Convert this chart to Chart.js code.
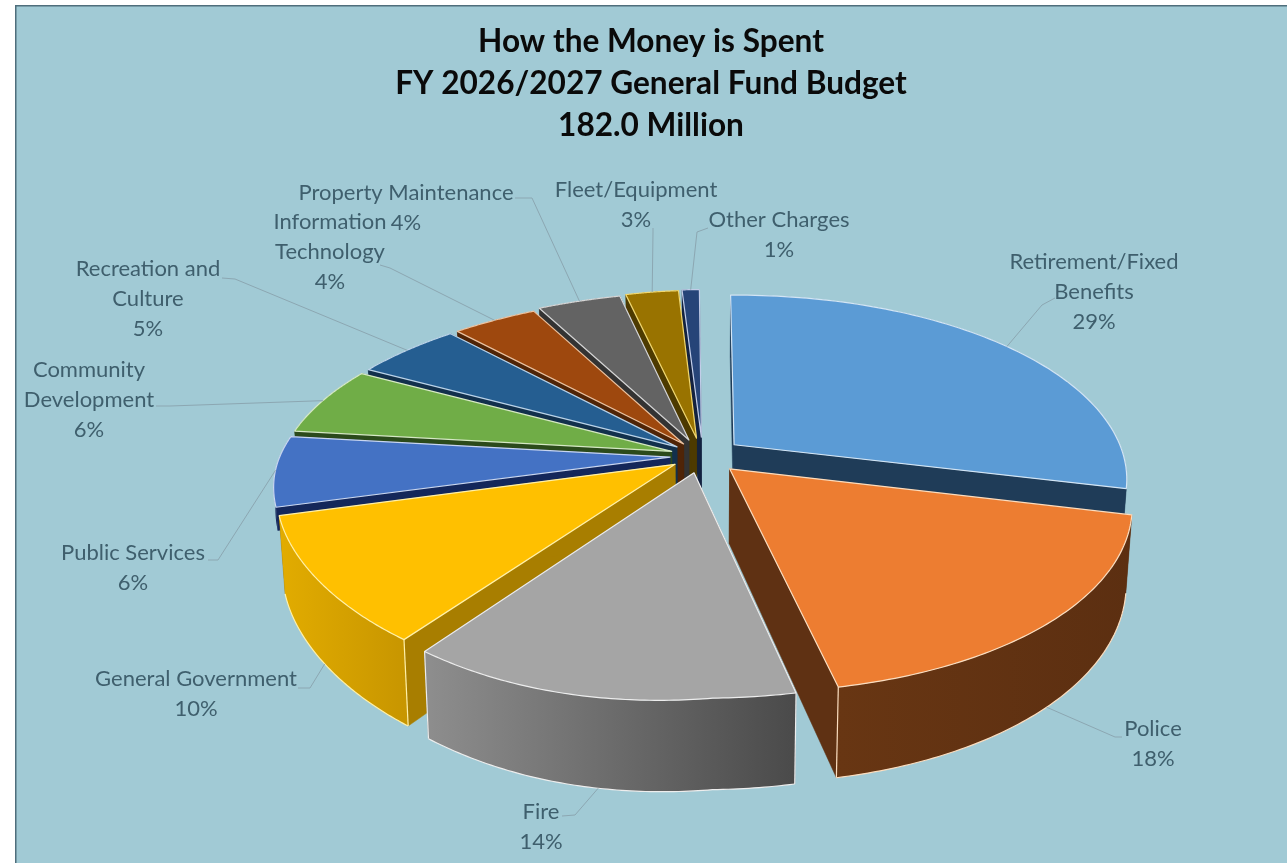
<!DOCTYPE html>
<html>
<head>
<meta charset="utf-8">
<style>
  html, body { margin: 0; padding: 0; background: #fff; }
  #wrap { position: absolute; left: 0; top: 0; width: 1287px; height: 863px; }
</style>
<script src="https://cdn.jsdelivr.net/npm/chart.js@4"></script>
</head>
<body>
<div id="wrap"><canvas id="budget" width="1287" height="863"></canvas></div>
<script>
// General Fund spending shares, in percent of the total budget.
const categories = ['Retirement/Fixed Benefits', 'Police', 'Fire', 'General Government', 'Public Services',
  'Community Development', 'Recreation and Culture', 'Information Technology', 'Property Maintenance',
  'Fleet/Equipment', 'Other Charges'];
const shares = [29, 18, 14, 10, 6, 6, 5, 4, 4, 3, 1];
const titleLines = ['How the Money is Spent', 'FY 2026/2027 General Fund Budget', '182.0 Million'];

// Slice styling.
const topColors = ['#5B9BD5', '#ED7D31', '#A5A5A5', '#FFC000', '#4472C4', '#70AD47', '#255E91', '#9E480E', '#636363', '#997300', '#264478'];
const edgeColors = ['#D3E5F5', '#FBDDBF', '#EDEDED', '#FFF0A8', '#C9D6F0', '#D5E8C5', '#BBD3E8', '#EBC3A2', '#D5D5D5', '#F0D770', '#C2CDE8'];
const faceColors = ['#1F3C58', '#5F3113', '#555555', '#A87E00', '#14275A', '#2B4A1B', '#12304C', '#4F2407', '#333333', '#4D3A00', '#132240'];
const wallNear = ['#1F3C58', '#683613', '#8E8E8E', '#E2AC00', '#14275A', '#2B4A1B', '#12304C', '#4F2407', '#333333', '#4D3A00', '#132240'];
const wallFar = ['#1F3C58', '#5C2F11', '#4A4A4A', '#C89600', '#14275A', '#2B4A1B', '#12304C', '#4F2407', '#333333', '#4D3A00', '#132240'];
const sliceOffsets = [40, 38, 37, 33, 33, 33, 33, 33, 38, 40, 42];
const sideDepth = [1, 1, 1, 1, 0.3, 1, 1, 1, 1, 1, 1];
const paintOrder = [10, 9, 8, 7, 6, 5, 0, 4, 3, 1, 2];

// Label text blocks and where each one sits; the leader starts at the slice rim.
const labelLines = [['Retirement/Fixed', 'Benefits'], ['Police'], ['Fire'], ['General Government'], ['Public Services'],
  ['Community', 'Development'], ['Recreation and', 'Culture'], ['Information', 'Technology'], ['Property Maintenance'],
  ['Fleet/Equipment'], ['Other Charges']];
const labelCentres = [[1094, 262], [1153, 729], [541, 812], [196, 679], [133, 553], [89, 370], [148, 269], [330, 222], [406, 193], [636, 190], [779, 220]];
const leaderElbows = [[[1042, 305], [1055, 298]], [[1115, 737], [1122, 737]], [[575, 815], [562, 816]], [[310, 688], [298, 688]], [[218, 560], [208, 560]],
  [[170, 406], [156, 406]], [[235, 279], [222, 278]], [[390, 268], [380, 265]], [[532, 198], [515, 198]], [[653, 232], [653, 228]], [[697, 232], [708, 228]]];
const leaderFromBase = [false, true, true, true, false, false, false, false, false, false, false];
const lineStep = 30;

// Projection of the tilted pie on to the page.
const view = { cx: 703, cy: 456, tilt: 0.46, perspective: 0.175, depth: 74, taper: 0.014, pinch: 0.07, nearShift: 7, farLeft: 15, farRight: 6, sag: 24 };

// Small lens corrections of the wide-angle view, by quadrant of the pie plane.
function lensX(X, Y, R) {
  const v = Y / R;
  if (Y < 0) {
    return X + view.nearShift * v * v + (X < 0 ? -view.pinch * X * v * v : 0);
  }
  if (X < 0) return X + view.farLeft * v * v * Math.min(1, -X / 120);
  return X + view.farRight * v * v * Math.min(1, X / 40);
}

function lensY(X, Y, R) {
  if (Y >= 0 || X >= 0) return 0;
  const v = Y / R;
  return view.sag * (-X / R) * v * v;
}

function project(el, angle, radial, drop) {
  const R = el.outerRadius;
  const th = angle + Math.PI / 2;
  const mid = (el.startAngle + el.endAngle) / 2 + Math.PI / 2;
  const d = el.options.offset;
  const X0 = R * radial * Math.sin(th) + d * Math.sin(mid);
  const Y = R * radial * Math.cos(th) + d * Math.cos(mid);
  const w = 1 + view.perspective * Y / R;
  const X = lensX(X0, Y, R);
  return [
    view.cx + (X / w) * (1 - drop * view.taper),
    view.cy - view.tilt * Y / w + lensY(X0, Y, R) + drop * view.depth / w
  ];
}

function rimPath(ctx, el, drop, reverse, moveFirst) {
  const steps = 80;
  for (let i = 0; i <= steps; i++) {
    const t = reverse ? 1 - i / steps : i / steps;
    const p = project(el, el.startAngle + (el.endAngle - el.startAngle) * t, 1, drop);
    if (i === 0 && moveFirst) ctx.moveTo(p[0], p[1]); else ctx.lineTo(p[0], p[1]);
  }
}

function cutFace(ctx, el, angle, fill, depth) {
  const a = project(el, angle, 0, 0), b = project(el, angle, 1, 0), c = project(el, angle, 1, depth), e = project(el, angle, 0, depth);
  ctx.beginPath();
  ctx.moveTo(a[0], a[1]); ctx.lineTo(b[0], b[1]); ctx.lineTo(c[0], c[1]); ctx.lineTo(e[0], e[1]);
  ctx.closePath();
  ctx.fillStyle = fill;
  ctx.fill();
  ctx.strokeStyle = fill;
  ctx.lineWidth = 0.5;
  ctx.stroke();
}

const tiltedPie = {
  id: 'tiltedPie',
  beforeDraw(chart) {
    const { ctx, width, height } = chart;
    ctx.save();
    ctx.fillStyle = '#A1CAD5';
    ctx.fillRect(15, 5, width - 15, height - 5);
    ctx.fillStyle = '#4F6E7C';
    ctx.fillRect(15, 5, width - 15, 1.5);
    ctx.fillRect(15, 5, 1.5, height - 5);
    ctx.restore();
  },
  beforeDatasetDraw(chart) {
    const { ctx } = chart;
    const arcs = chart.getDatasetMeta(0).data;
    ctx.save();
    ctx.lineJoin = 'round';
    paintOrder.forEach(i => {
      const el = arcs[i];
      const edge = edgeColors[i];
      const depth = sideDepth[i];
      // Cut faces first, then the outer wall, then the top.
      cutFace(ctx, el, el.startAngle, faceColors[i], depth);
      cutFace(ctx, el, el.endAngle, faceColors[i], depth);

      const a = project(el, el.startAngle, 1, 0), b = project(el, el.endAngle, 1, 0);
      const grad = ctx.createLinearGradient(Math.min(a[0], b[0]), 0, Math.max(a[0], b[0]), 0);
      grad.addColorStop(0, wallNear[i]);
      grad.addColorStop(1, wallFar[i]);
      ctx.beginPath();
      rimPath(ctx, el, 0, false, true);
      rimPath(ctx, el, depth, true, false);
      ctx.closePath();
      ctx.fillStyle = grad;
      ctx.fill();

      // Only the slices on the near side show their lower rim and corner edges.
      [el.startAngle, el.endAngle].forEach(angle => {
        if (Math.sin(angle) <= 0.3) return;
        const p = project(el, angle, 1, 0), q = project(el, angle, 1, depth);
        ctx.beginPath();
        ctx.moveTo(p[0], p[1]); ctx.lineTo(q[0], q[1]);
        ctx.strokeStyle = edge;
        ctx.lineWidth = 1.2;
        ctx.stroke();
      });
      if (Math.sin((el.startAngle + el.endAngle) / 2) > 0.3) {
        ctx.beginPath();
        rimPath(ctx, el, depth, false, true);
        ctx.strokeStyle = edge;
        ctx.lineWidth = 1.2;
        ctx.stroke();
      }

      const apex = project(el, el.startAngle, 0, 0);
      ctx.beginPath();
      ctx.moveTo(apex[0], apex[1]);
      rimPath(ctx, el, 0, false, false);
      ctx.closePath();
      ctx.fillStyle = topColors[i];
      ctx.fill();
      ctx.strokeStyle = edge;
      ctx.lineWidth = 1.2;
      ctx.stroke();
    });
    ctx.restore();
    return false;
  },
  afterDraw(chart) {
    const { ctx } = chart;
    const arcs = chart.getDatasetMeta(0).data;
    ctx.save();
    arcs.forEach((el, i) => {
      const mid = (el.startAngle + el.endAngle) / 2;
      const rim = project(el, mid, 1, leaderFromBase[i] ? 1 : 0);
      ctx.beginPath();
      ctx.moveTo(rim[0], rim[1]);
      leaderElbows[i].forEach(p => ctx.lineTo(p[0], p[1]));
      ctx.strokeStyle = '#8CA7B2';
      ctx.lineWidth = 1;
      ctx.stroke();
    });
    ctx.font = '22px "Lato"';
    ctx.fillStyle = '#3F5F6D';
    ctx.textAlign = 'center';
    ctx.textBaseline = 'middle';
    categories.forEach((name, i) => {
      const lines = labelLines[i].concat(shares[i] + '%');
      lines.forEach((line, n) => ctx.fillText(line, labelCentres[i][0], labelCentres[i][1] + n * lineStep));
    });
    ctx.restore();
  }
};

new Chart(document.getElementById('budget'), {
  type: 'pie',
  data: {
    labels: categories,
    datasets: [{ data: shares, backgroundColor: topColors, offset: sliceOffsets, borderWidth: 0 }]
  },
  options: {
    responsive: false,
    animation: false,
    rotation: -0.5,
    radius: 390,
    layout: { padding: { left: 15, top: 5 } },
    events: [],
    plugins: {
      legend: { display: false },
      tooltip: { enabled: false },
      title: {
        display: true,
        text: titleLines,
        color: '#0A0A0A',
        font: { family: 'Lato', size: 31.6, weight: 'bold', lineHeight: 1.33 },
        padding: { top: 16, bottom: 0 }
      }
    }
  },
  plugins: [tiltedPie]
});
</script>
</body>
</html>
